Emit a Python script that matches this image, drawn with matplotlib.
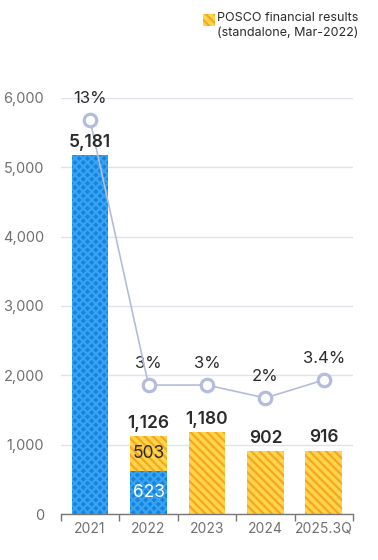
import numpy as np
import matplotlib.pyplot as plt
from matplotlib.patches import Rectangle

plt.rcParams['font.family'] = ['Inter', 'DejaVu Sans']
plt.rcParams['hatch.linewidth'] = 1.6

years = ['2021', '2022', '2023', '2024', '2025.3Q']
blue_part = [5181, 623, 0, 0, 0]
yellow_part = [0, 503, 1180, 902, 916]
totals = [5181, 1126, 1180, 902, 916]
ratio = [13, 3, 3, 2, 3.4]
ratio_labels = ['13%', '3%', '3%', '2%', '3.4%']

blue_face, blue_hatch = '#1783dc', '#36a4f3'
yel_face, yel_hatch = '#ffd54a', '#f6a623'
line_col = '#b3bcdd'
grid_col = '#dfe1ee'
txt = '#2b2b2b'
tick_col = '#707070'
yel_pattern = '\\' * 4

fig = plt.figure(figsize=(3.78, 5.6), dpi=100)
ax = fig.add_axes([0.161, 0.0821, 0.773, 0.743])

x = np.arange(len(years))
w = 0.63
ax.bar(x, blue_part, w, color=blue_face, edgecolor=blue_hatch, hatch='xxxx', linewidth=0, zorder=2)
ax.bar(x, yellow_part, w, bottom=blue_part, color=yel_face, edgecolor=yel_hatch,
       hatch=yel_pattern, linewidth=0, zorder=2)

ax.set_xlim(-0.5, len(years) - 0.5)
ax.set_ylim(0, 6000)
ax.set_yticks(np.arange(0, 6001, 1000))
ax.set_yticklabels([f'{v:,}' for v in range(0, 6001, 1000)])
ax.set_xticks(x)
ax.set_xticklabels(years)
ax.set_xticks(np.arange(-0.5, len(years)), minor=True)
ax.tick_params(axis='x', which='major', length=0, pad=6, labelsize=10, labelcolor=tick_col)
ax.tick_params(axis='x', which='minor', length=5, width=1, color='#777777', direction='out')
ax.tick_params(axis='y', length=0, pad=12, labelsize=10.5, labelcolor=tick_col)
ax.grid(axis='y', color=grid_col, linewidth=1, zorder=0)
for s in ['left', 'right', 'top']:
    ax.spines[s].set_visible(False)
ax.spines['bottom'].set_color('#777777')
ax.spines['bottom'].set_linewidth(1)

# ratio line on a secondary axis with a compressed upper range
def fwd(p):
    p = np.asarray(p, dtype=float)
    return np.where(p <= 4, p, 4 + (p - 4) * 2.17)

def inv(t):
    t = np.asarray(t, dtype=float)
    return np.where(t <= 4, t, 4 + (t - 4) / 2.17)

ax2 = ax.twinx()
ax2.set_yscale('function', functions=(fwd, inv))
ax2.set_ylim(-7, 13.8)
ax2.plot(x, ratio, color=line_col, linewidth=1.2, marker='o', markersize=9,
         markerfacecolor='white', markeredgecolor=line_col, markeredgewidth=2.3,
         zorder=4, clip_on=False)
for i, (r, lab) in enumerate(zip(ratio, ratio_labels)):
    ax2.annotate(lab, (i, r), xytext=(0, 10), textcoords='offset points',
                 ha='center', va='bottom', fontsize=12, color=txt)
ax2.set_yticks([])
for s in ax2.spines.values():
    s.set_visible(False)

# value labels, drawn above the line
for i, t in enumerate(totals):
    ax2.annotate(f'{t:,}', (i, t), xycoords=ax.transData, xytext=(0, 3), textcoords='offset points',
                 ha='center', va='bottom', fontsize=12.5, fontweight='semibold', color=txt,
                 zorder=6, annotation_clip=False)
ax.text(1, blue_part[1] + yellow_part[1] / 2, f'{yellow_part[1]:,}', ha='center', va='center',
        fontsize=12.5, color=txt, zorder=3)
ax.text(1, blue_part[1] / 2, f'{blue_part[1]:,}', ha='center', va='center',
        fontsize=12.5, color='white', zorder=3)

# legend
fig.patches.append(Rectangle((0.537, 0.953), 0.032, 0.0215, transform=fig.transFigure,
                             facecolor=yel_face, edgecolor=yel_hatch, hatch=yel_pattern, linewidth=0))
fig.text(0.948, 0.978, 'POSCO financial results\n(standalone, Mar-2022)', ha='right', va='top',
         multialignment='right', fontsize=9, color=txt, linespacing=1.3)

fig.savefig('out.png', dpi=100)
